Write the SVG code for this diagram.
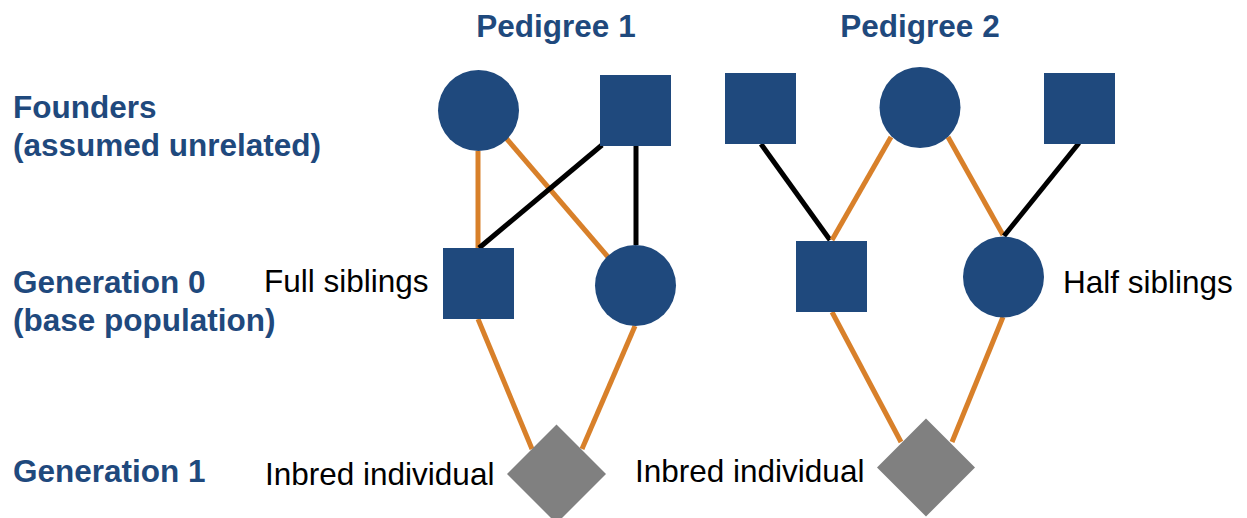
<svg xmlns="http://www.w3.org/2000/svg" width="1247" height="518" viewBox="0 0 1247 518">
<style>
.lbl{font-family:"Liberation Sans",Arial,sans-serif;font-weight:bold;font-size:31.5px;fill:#1F497D}
.txt{font-family:"Liberation Sans",Arial,sans-serif;font-size:31.5px;fill:#000}
.node{fill:#1F497D}
.inb{fill:#808080}
.o{stroke:#D8802A;stroke-width:5;fill:none}
.k{stroke:#000;stroke-width:5;fill:none}
</style>
<rect width="1247" height="518" fill="#fff"/>
<g id="labels">
<text class="lbl" x="556" y="37" text-anchor="middle">Pedigree 1</text>
<text class="lbl" x="920" y="37" text-anchor="middle">Pedigree 2</text>
<text class="lbl" x="13" y="118">Founders</text>
<text class="lbl" x="13" y="156">(assumed unrelated)</text>
<text class="lbl" x="13" y="293">Generation 0</text>
<text class="lbl" x="13" y="331">(base population)</text>
<text class="lbl" x="13" y="482">Generation 1</text>
<text class="txt" x="264" y="292">Full siblings</text>
<text class="txt" x="1063" y="293">Half siblings</text>
<text class="txt" x="265" y="485">Inbred individual</text>
<text class="txt" x="635" y="482">Inbred individual</text>
</g>
<g id="connectors">
<line class="o" x1="478" y1="151" x2="478" y2="248"/>
<line class="o" x1="506" y1="138" x2="608" y2="257"/>
<line class="k" x1="602" y1="145" x2="479" y2="248"/>
<line class="k" x1="636" y1="146" x2="636" y2="245"/>
<line class="o" x1="478" y1="319" x2="532" y2="449"/>
<line class="o" x1="635" y1="326" x2="582" y2="449"/>
<line class="k" x1="761" y1="144" x2="830" y2="240"/>
<line class="o" x1="891" y1="137" x2="832" y2="240"/>
<line class="o" x1="948" y1="137" x2="1003" y2="235"/>
<line class="k" x1="1079" y1="143" x2="1004" y2="236"/>
<line class="o" x1="832" y1="312" x2="901" y2="442"/>
<line class="o" x1="1003" y1="317" x2="952" y2="442"/>
</g>
<g id="p1-founder-female"><circle class="node" cx="478.5" cy="110.5" r="40.5"/></g>
<g id="p1-founder-male"><rect class="node" x="600" y="75" width="71" height="71"/></g>
<g id="p1-g0-male"><rect class="node" x="443" y="248" width="71" height="71"/></g>
<g id="p1-g0-female"><circle class="node" cx="635.5" cy="285.5" r="40.5"/></g>
<g id="p1-inbred"><polygon class="inb" points="556.5,424.5 606,474 556.5,523.5 507,474"/></g>
<g id="p2-founder-male-1"><rect class="node" x="725" y="73" width="71" height="71"/></g>
<g id="p2-founder-female"><circle class="node" cx="920" cy="107.5" r="40.5"/></g>
<g id="p2-founder-male-2"><rect class="node" x="1044" y="73" width="71" height="71"/></g>
<g id="p2-g0-male"><rect class="node" x="796" y="241" width="71" height="71"/></g>
<g id="p2-g0-female"><circle class="node" cx="1003.5" cy="277" r="40.5"/></g>
<g id="p2-inbred"><polygon class="inb" points="926,418.5 975,467.5 926,516.5 877,467.5"/></g>
</svg>
